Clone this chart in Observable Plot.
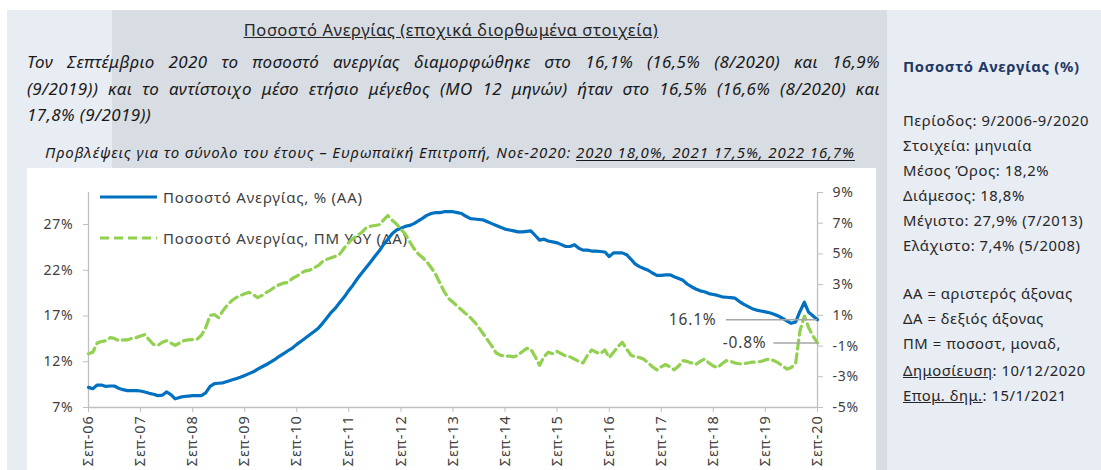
<!DOCTYPE html>
<html><head><meta charset="utf-8">
<script src="https://cdn.jsdelivr.net/npm/d3@7"></script>
<script src="https://cdn.jsdelivr.net/npm/@observablehq/plot@0.6"></script>
<style>
body{margin:0;width:1101px;height:470px;position:relative;overflow:hidden;background:#fff;font-family:"Noto Sans",sans-serif;color:#262626}
.abs{position:absolute}
#light{left:7px;top:10px;width:1094px;height:460px;background:#e8ecf3}
#gray{left:112px;top:10px;width:775px;height:460px;background:#d8dde4}
#white{left:27px;top:168px;width:849px;height:302px;background:#fff}
#title{left:0;width:902px;top:19px;text-align:center;font-size:16.5px;letter-spacing:0.6px;line-height:22px;text-decoration:underline;color:#262626}
#para{left:27px;top:49px;width:853px;font-size:17px;letter-spacing:0.4px;line-height:26.5px;font-style:italic;color:#1a1a1a}
#para div{text-align:justify;text-align-last:justify}
#para div.last{text-align-last:left}
#fc{left:45px;top:141px;font-size:15px;letter-spacing:0.9px;line-height:22px;font-style:italic;white-space:nowrap;color:#1a1a1a}
#fc u{text-underline-offset:2px}
#side{left:903px;top:0;font-size:14.8px;letter-spacing:0.55px;color:#262626;white-space:nowrap}
#side div{position:absolute;left:0;line-height:20px}
#side .h{font-weight:bold;color:#1f3864;letter-spacing:0.7px}
#legend{left:0;top:0}
#legend .t{position:absolute;font-size:15px;letter-spacing:0.75px;line-height:20px;color:#404040;white-space:nowrap}
#chart{left:27px;top:168px;z-index:2}
</style></head>
<body>
<div id="light" class="abs"></div>
<div id="gray" class="abs"></div>
<div id="white" class="abs"></div>
<div id="title" class="abs"></div>
<div id="para" class="abs"></div>
<div id="fc" class="abs"></div>
<div id="side" class="abs"></div>
<div id="legend" class="abs"></div>
<div id="chart" class="abs"></div>
<script>
// ---------- DATA ----------
const titleText = "Ποσοστό Ανεργίας (εποχικά διορθωμένα στοιχεία)";
const paraLines = [
  "Τον Σεπτέμβριο 2020 το ποσοστό ανεργίας διαμορφώθηκε στο 16,1% (16,5% (8/2020) και 16,9%",
  "(9/2019)) και το αντίστοιχο μέσο ετήσιο μέγεθος (ΜΟ 12 μηνών) ήταν στο 16,5% (16,6% (8/2020) και",
  "17,8% (9/2019))"
];
const forecastLead = "Προβλέψεις για το σύνολο του έτους – Ευρωπαϊκή Επιτροπή, Νοε-2020: ";
const forecastValues = "2020 18,0%, 2021 17,5%, 2022 16,7%";
const sideTitle = "Ποσοστό Ανεργίας (%)";
const sideStats = ["Περίοδος: 9/2006-9/2020","Στοιχεία: μηνιαία","Μέσος Όρος: 18,2%","Διάμεσος: 18,8%","Μέγιστο: 27,9% (7/2013)","Ελάχιστο: 7,4% (5/2008)"];
const sideNotes = ["ΑΑ = αριστερός άξονας","ΔΑ = δεξιός άξονας","ΠΜ = ποσοστ, μοναδ,"];
const sidePub = [["Δημοσίευση",": 10/12/2020"],["Επομ. δημ.",": 15/1/2021"]];
const seriesNames = ["Ποσοστό Ανεργίας, % (ΑΑ)", "Ποσοστό Ανεργίας, ΠΜ YoY (ΔΑ)"];

// monthly, Sep 2006 .. Sep 2020 (left axis, %)
const unemp = [
  8.7, 8.55, 8.95, 8.95, 8.8, 8.85, 8.85, 8.6, 8.45, 8.35, 8.35, 8.35,
  8.3, 8.2, 8.05, 7.95, 7.8, 7.85, 8.2, 7.9, 7.45, 7.6, 7.7, 7.75,
  7.8, 7.8, 7.8, 8.1, 8.8, 9.1, 9.15, 9.2, 9.35, 9.5, 9.65, 9.8,
  10.0, 10.2, 10.4, 10.7, 10.95, 11.2, 11.45, 11.75, 12.1, 12.4, 12.7, 13.0,
  13.4, 13.75, 14.1, 14.45, 14.8, 15.2, 15.7, 16.3, 16.9, 17.4, 18.0, 18.6,
  19.3, 19.9, 20.6, 21.2, 21.8, 22.4, 23.0, 23.6, 24.3, 24.9, 25.5, 25.9,
  26.1, 26.3, 26.4, 26.6, 26.9, 27.2, 27.5, 27.7, 27.8, 27.8, 27.9, 27.9,
  27.9, 27.8, 27.7, 27.4, 27.15, 27.1, 27.05, 27.0, 26.8, 26.6, 26.4, 26.2,
  26.0, 25.9, 25.8, 25.7, 25.7, 25.75, 25.8, 25.3, 24.8, 24.9, 24.7, 24.6,
  24.5, 24.3, 24.1, 24.1, 24.3, 23.9, 23.7, 23.7, 23.6, 23.6, 23.55, 23.5,
  23.0, 23.4, 23.4, 23.4, 23.2, 22.7, 22.2, 21.9, 21.7, 21.5, 21.2, 20.95,
  20.95, 21.0, 21.0, 20.8, 20.6, 20.4, 20.0, 19.7, 19.45, 19.25, 19.15, 18.95,
  18.85, 18.75, 18.6, 18.55, 18.5, 18.45, 18.1, 17.8, 17.55, 17.3, 17.15, 17.05,
  16.95, 16.85, 16.7, 16.5, 16.25, 15.95, 15.7, 15.85, 17.0, 18.0, 16.9, 16.5,
  16.1
];
// monthly YoY change, percentage points (right axis)
const yoy = [
  -1.5, -1.4, -0.8, -0.7, -0.65, -0.45, -0.5, -0.65, -0.6, -0.6, -0.5, -0.45,
  -0.35, -0.25, -0.6, -0.9, -0.95, -0.75, -0.65, -0.8, -0.95, -0.8, -0.65, -0.6,
  -0.58, -0.55, -0.3, 0.2, 1.0, 1.05, 0.85, 1.3, 1.65, 1.95, 2.15, 2.3,
  2.4, 2.5, 2.35, 2.15, 2.3, 2.5, 2.65, 2.85, 3.0, 3.1, 3.15, 3.4,
  3.55, 3.75, 3.9, 3.95, 4.1, 4.25, 4.5, 4.65, 4.75, 4.85, 5.0, 5.4,
  5.75, 6.0, 6.2, 6.4, 6.7, 6.8, 6.85, 6.9, 7.2, 7.5, 7.2, 6.95,
  6.6, 6.3, 5.8, 5.35, 5.0, 4.75, 4.5, 4.1, 3.7, 3.1, 2.55, 2.1,
  1.85, 1.6, 1.35, 1.1, 0.85, 0.55, 0.2, -0.2, -0.6, -1.0, -1.45, -1.6,
  -1.65, -1.65, -1.7, -1.6, -1.35, -1.15, -1.2, -1.7, -2.25, -1.7, -1.4, -1.5,
  -1.35, -1.5, -1.65, -1.7, -1.85, -2.0, -2.1, -1.6, -1.25, -1.4, -1.5, -1.25,
  -1.75, -1.4, -1.05, -0.75, -1.2, -1.6, -1.7, -1.75, -1.85, -2.1, -2.35, -2.55,
  -2.35, -2.2, -2.35, -2.55, -2.3, -1.95, -2.0, -2.1, -2.2, -2.0, -1.85, -2.1,
  -2.3, -2.4, -2.15, -1.95, -2.0, -2.1, -2.15, -2.15, -2.1, -2.05, -2.05, -2.0,
  -1.9, -1.85, -1.95, -2.1, -2.3, -2.5, -2.4, -2.1, 0.0, 0.95, 0.2, -0.35,
  -0.8
];
const startYear = 2006, startMonth = 8; // September 2006
const xTickLabels = ["Σεπ-06","Σεπ-07","Σεπ-08","Σεπ-09","Σεπ-10","Σεπ-11","Σεπ-12","Σεπ-13","Σεπ-14","Σεπ-15","Σεπ-16","Σεπ-17","Σεπ-18","Σεπ-19","Σεπ-20"];
const leftTickValues = [6.5, 11.5, 16.5, 21.5, 26.5];
const leftTickLabels = ["7%","12%","17%","22%","27%"];
const leftDomain = [6.5, 30];
const rightTickValues = [-5, -3, -1, 1, 3, 5, 7, 9];
const rightTickLabels = ["-5%","-3%","-1%","1%","3%","5%","7%","9%"];
const rightDomain = [-5, 9];

// ---------- TEXT ----------
document.getElementById("title").textContent = titleText;
const para = document.getElementById("para");
paraLines.forEach((l, i) => { const d = document.createElement("div"); d.textContent = l; if (i === paraLines.length - 1) d.className = "last"; para.appendChild(d); });
const fc = document.getElementById("fc");
fc.append(forecastLead); const u = document.createElement("u"); u.textContent = forecastValues; fc.appendChild(u);
const side = document.getElementById("side");
function sideLine(top, html, cls) { const d = document.createElement("div"); d.style.top = top + "px"; d.innerHTML = html; if (cls) d.className = cls; side.appendChild(d); }
sideLine(56, sideTitle, "h");
sideStats.forEach((s, i) => sideLine(110 + i * 25, s));
sideNotes.forEach((s, i) => sideLine(283 + i * 25, s));
sidePub.forEach((s, i) => sideLine(360 + i * 25, "<u>" + s[0] + "</u>" + s[1]));

// ---------- CHART ----------
const W = 849, H = 302, mL = 61, mR = 59, mT = 24, mB = 63;
const dates = unemp.map((_, i) => new Date(Date.UTC(startYear, startMonth + i, 1)));
const rows = unemp.map((u, i) => ({date: dates[i], unemp: u, yoy: yoy[i]}));
const last = rows[rows.length - 1];
const toLeft = v => leftDomain[0] + (v - rightDomain[0]) * (leftDomain[1] - leftDomain[0]) / (rightDomain[1] - rightDomain[0]);
const xTicks = xTickLabels.map((_, i) => new Date(Date.UTC(startYear + i, startMonth, 1)));
const rightPos = rightTickValues.map(toLeft);
const axisGray = "#bfbfbf";

const chart = Plot.plot({
  width: W, height: H, marginLeft: mL, marginRight: mR, marginTop: mT, marginBottom: mB,
  style: {background: "transparent", fontFamily: "Noto Sans", fontSize: "14px", letterSpacing: "0.8px", color: "#404040", overflow: "visible"},
  x: {type: "utc", domain: [dates[0], dates[dates.length - 1]]},
  y: {domain: leftDomain},
  marks: [
    Plot.ruleY([leftDomain[0]], {stroke: axisGray, strokeWidth: 1.3}),
    Plot.ruleX([dates[0], dates[dates.length - 1]], {stroke: axisGray, strokeWidth: 1.3}),
    Plot.axisY({ticks: leftTickValues, tickFormat: d => leftTickLabels[leftTickValues.indexOf(d)], tickSize: 5, tickPadding: 10, stroke: axisGray, fill: "#404040", label: null}),
    Plot.axisY({anchor: "right", ticks: rightPos, tickFormat: d => rightTickLabels[rightPos.indexOf(d)], tickSize: 5, tickPadding: 10, stroke: axisGray, fill: "#404040", label: null}),
    Plot.axisX({ticks: xTicks, tickFormat: d => xTickLabels[xTicks.findIndex(t => +t === +d)], tickRotate: -90, tickSize: 5, tickPadding: 3, stroke: axisGray, fill: "#404040", fontSize: 14.5, label: null}),
    Plot.line(rows, {x: "date", y: "unemp", stroke: "#0070c0", strokeWidth: 3.2}),
    Plot.line(rows, {x: "date", y: d => toLeft(d.yoy), stroke: "#92d050", strokeWidth: 3.2, strokeDasharray: "9,5"}),
    Plot.ruleY([last], {y: "unemp", x1: d => d3.utcMonth.offset(d.date, -21), x2: "date", stroke: "#a6a6a6", strokeWidth: 1.5}),
    Plot.ruleY([last], {y: d => toLeft(d.yoy), x1: d => d3.utcMonth.offset(d.date, -10), x2: "date", stroke: "#a6a6a6", strokeWidth: 1.5}),
    Plot.text([last], {x: "date", y: "unemp", text: d => d.unemp.toFixed(1) + "%", dx: -101, textAnchor: "end", fontSize: 15.5, fill: "#404040"}),
    Plot.text([last], {x: "date", y: d => toLeft(d.yoy), text: d => d.yoy.toFixed(1) + "%", dx: -51, textAnchor: "end", fontSize: 15.5, fill: "#404040"})
  ]
});
document.getElementById("chart").appendChild(chart);

// legend (behind the chart lines)
const lg = document.getElementById("legend");
const colors = ["#0070c0", "#92d050"], dashes = [null, "9,5"], lgY = [197, 238];
seriesNames.forEach((name, i) => {
  const s = document.createElementNS("http://www.w3.org/2000/svg", "svg");
  s.setAttribute("width", 60); s.setAttribute("height", 10);
  s.style.position = "absolute"; s.style.left = "99px"; s.style.top = (lgY[i] - 5) + "px";
  const ln = document.createElementNS("http://www.w3.org/2000/svg", "line");
  ln.setAttribute("x1", 1); ln.setAttribute("x2", 58); ln.setAttribute("y1", 5); ln.setAttribute("y2", 5);
  ln.setAttribute("stroke", colors[i]); ln.setAttribute("stroke-width", 3.2);
  if (dashes[i]) ln.setAttribute("stroke-dasharray", dashes[i]);
  s.appendChild(ln); lg.appendChild(s);
  const t = document.createElement("div"); t.className = "t"; t.textContent = name;
  t.style.left = "163px"; t.style.top = (lgY[i] - 10) + "px"; lg.appendChild(t);
});
</script>
</body></html>
